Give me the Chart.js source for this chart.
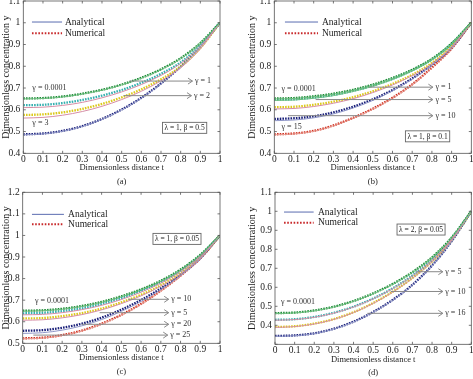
<!DOCTYPE html>
<html><head><meta charset="utf-8">
<script src="https://cdn.jsdelivr.net/npm/chart.js@4.4.0/dist/chart.umd.min.js"></script>
<style>
html,body{margin:0;padding:0;background:#fff;}
#wrap{position:relative;width:473px;height:379px;overflow:hidden;background:#fff;}
canvas{position:absolute;}
</style></head><body>
<div id="wrap">
<canvas id="pa" width="236" height="190" style="left:0;top:0"></canvas>
<canvas id="pb" width="237" height="190" style="left:236px;top:0"></canvas>
<canvas id="pc" width="236" height="194" style="left:0;top:185px"></canvas>
<canvas id="pd" width="237" height="194" style="left:236px;top:185px"></canvas>
</div>
<script>
// ---------- data ----------
const T = [0, 0.1, 0.2, 0.3, 0.4, 0.5, 0.6, 0.7, 0.8, 0.9, 1];

// (a) lambda = 1, beta = 0.5
const aNum_g0001 = [0.652,0.654,0.661,0.674,0.692,0.716,0.747,0.786,0.837,0.907,1.0];
const aAna_g0001 = [0.650,0.652,0.659,0.672,0.690,0.714,0.745,0.784,0.835,0.906,1.0];
const aNum_g1    = [0.621,0.623,0.631,0.645,0.665,0.691,0.724,0.765,0.818,0.896,1.0];
const aAna_g1    = [0.610,0.612,0.620,0.634,0.655,0.682,0.716,0.758,0.813,0.892,1.0];
const aNum_g2    = [0.576,0.579,0.588,0.604,0.627,0.657,0.694,0.740,0.799,0.884,1.0];
const aAna_g2    = [0.562,0.565,0.575,0.592,0.616,0.647,0.685,0.733,0.793,0.880,1.0];
const aNum_g3    = [0.487,0.491,0.503,0.525,0.558,0.601,0.655,0.721,0.799,0.889,1.0];
const aAna_g3    = [0.485,0.489,0.501,0.523,0.556,0.599,0.653,0.719,0.797,0.888,1.0];

// (b) lambda = 1, beta = 0.1
const bNum_g0001 = [0.652,0.654,0.662,0.674,0.692,0.716,0.746,0.784,0.834,0.905,1.0];
const bAna_g0001 = [0.650,0.652,0.660,0.672,0.690,0.714,0.744,0.782,0.833,0.904,1.0];
const bNum_g1    = [0.646,0.648,0.656,0.668,0.687,0.711,0.742,0.781,0.831,0.903,1.0];
const bAna_g1    = [0.643,0.645,0.653,0.665,0.684,0.708,0.739,0.778,0.829,0.902,1.0];
const bNum_g5    = [0.612,0.614,0.623,0.637,0.658,0.685,0.719,0.761,0.815,0.892,1.0];
const bAna_g5    = [0.604,0.606,0.615,0.630,0.651,0.679,0.714,0.757,0.811,0.889,1.0];
const bNum_g10   = [0.558,0.561,0.570,0.588,0.614,0.648,0.691,0.744,0.808,0.886,1.0];
const bAna_g10   = [0.550,0.553,0.563,0.581,0.608,0.643,0.687,0.741,0.806,0.885,1.0];
const bNum_g15   = [0.487,0.491,0.503,0.528,0.563,0.605,0.655,0.717,0.794,0.882,1.0];
const bAna_g15   = [0.485,0.489,0.501,0.526,0.561,0.603,0.653,0.715,0.792,0.881,1.0];

// (c) lambda = 1, beta = 0.05
const cNum_g0001 = [0.651,0.653,0.660,0.673,0.692,0.718,0.750,0.790,0.842,0.910,1.0];
const cAna_g0001 = [0.649,0.651,0.658,0.671,0.690,0.716,0.748,0.788,0.840,0.909,1.0];
const cNum_g5    = [0.639,0.641,0.649,0.662,0.682,0.709,0.742,0.783,0.836,0.906,1.0];
const cAna_g5    = [0.632,0.634,0.642,0.656,0.676,0.703,0.737,0.779,0.833,0.904,1.0];
const cNum_g10   = [0.615,0.617,0.626,0.640,0.661,0.690,0.725,0.769,0.825,0.899,1.0];
const cAna_g10   = [0.607,0.609,0.618,0.633,0.655,0.684,0.720,0.765,0.822,0.897,1.0];
const cNum_g20   = [0.558,0.561,0.572,0.591,0.619,0.656,0.701,0.754,0.818,0.895,1.0];
const cAna_g20   = [0.546,0.549,0.561,0.581,0.610,0.648,0.694,0.749,0.815,0.893,1.0];
const cNum_g25   = [0.523,0.526,0.538,0.559,0.591,0.632,0.683,0.744,0.814,0.894,1.0];
const cAna_g25   = [0.521,0.524,0.536,0.557,0.589,0.630,0.681,0.742,0.812,0.893,1.0];

// (d) lambda = 2, beta = 0.05
const dNum_g0001 = [0.464,0.467,0.478,0.498,0.528,0.568,0.618,0.680,0.758,0.862,1.0];
const dAna_g0001 = [0.462,0.465,0.476,0.496,0.526,0.566,0.616,0.678,0.756,0.861,1.0];
const dNum_g5    = [0.429,0.432,0.444,0.466,0.498,0.541,0.595,0.662,0.745,0.855,1.0];
const dAna_g5    = [0.427,0.430,0.442,0.464,0.496,0.539,0.593,0.660,0.743,0.854,1.0];
const dNum_g10   = [0.391,0.395,0.409,0.433,0.469,0.517,0.577,0.649,0.736,0.849,1.0];
const dAna_g10   = [0.389,0.393,0.407,0.431,0.467,0.515,0.575,0.647,0.734,0.848,1.0];
const dNum_g16   = [0.344,0.347,0.358,0.382,0.419,0.470,0.534,0.613,0.715,0.843,1.0];
const dAna_g16   = [0.342,0.345,0.356,0.380,0.417,0.468,0.532,0.611,0.713,0.842,1.0];

// ---------- styles ----------
const F = "'Liberation Serif','Times New Roman',serif";
const TXT = '#222';
const COL = {green:'#1b8a35', cyan:'#35b0b0', yellow:'#dcc91c', navy:'#1a207a', red:'#d0301f', pink:'#d68ea6', lgreen:'#6fbf80', lnavy:'#8f96c8', lred:'#e79a90'};
const fmt = v => String(Math.round(v * 10) / 10);

function ds(data, color, num) {
  return {
    data: T.map((t, i) => ({x: t, y: data[i]})),
    borderColor: color, borderWidth: num ? 2.3 : 1,
    borderDash: num ? [1.6, 1.1] : [],
    pointRadius: 0, cubicInterpolationMode: 'monotone', fill: false
  };
}

const decor = {
  id: 'decor',
  afterDatasetsDraw(chart, _a, o) {
    const {ctx, chartArea: ca, scales: {x, y}} = chart;
    const cw = ca.right - ca.left, ch = ca.bottom - ca.top;
    ctx.save();
    // frame
    ctx.strokeStyle = '#555'; ctx.lineWidth = 0.8; ctx.setLineDash([]);
    ctx.strokeRect(ca.left, ca.top, cw, ch);
    // inward ticks
    ctx.beginPath();
    x.ticks.forEach(tk => { const p = x.getPixelForValue(tk.value);
      ctx.moveTo(p, ca.bottom); ctx.lineTo(p, ca.bottom - 2.5);
      ctx.moveTo(p, ca.top); ctx.lineTo(p, ca.top + 2.5); });
    y.ticks.forEach(tk => { const p = y.getPixelForValue(tk.value);
      ctx.moveTo(ca.left, p); ctx.lineTo(ca.left + 2.5, p);
      ctx.moveTo(ca.right, p); ctx.lineTo(ca.right - 2.5, p); });
    ctx.stroke();
    // legend
    const L = o.legend;
    const lx0 = ca.left + L.x0 * cw, lx1 = ca.left + L.x1 * cw, tx = ca.left + L.tx * cw;
    const ya = ca.top + L.ya * ch, yn = ca.top + L.yn * ch;
    ctx.strokeStyle = '#5a6cb0'; ctx.lineWidth = 1;
    ctx.beginPath(); ctx.moveTo(lx0, ya); ctx.lineTo(lx1, ya); ctx.stroke();
    ctx.strokeStyle = '#c8282a'; ctx.lineWidth = 2; ctx.setLineDash([1.6, 1.6]);
    ctx.beginPath(); ctx.moveTo(lx0, yn); ctx.lineTo(lx1, yn); ctx.stroke();
    ctx.setLineDash([]);
    ctx.fillStyle = TXT; ctx.font = `9.5px ${F}`; ctx.textAlign = 'left'; ctx.textBaseline = 'middle';
    ctx.fillText('Analytical', tx, ya);
    ctx.fillText('Numerical', tx, yn);
    // arrows
    ctx.font = `8px ${F}`;
    o.arrows.forEach(a => {
      const py = y.getPixelForValue(a.v), x0 = x.getPixelForValue(a.t0), x1 = x.getPixelForValue(a.t1);
      ctx.strokeStyle = '#888'; ctx.lineWidth = 1;
      ctx.beginPath(); ctx.moveTo(x0, py); ctx.lineTo(x1, py);
      ctx.moveTo(x1 - 4.5, py - 3); ctx.lineTo(x1, py); ctx.lineTo(x1 - 4.5, py + 3); ctx.stroke();
      ctx.fillStyle = '#333'; ctx.fillText(a.text, x1 + 2.5, py);
    });
    // free labels
    o.labels.forEach(l => {
      ctx.fillStyle = '#333';
      ctx.fillText(l.text, x.getPixelForValue(l.t), y.getPixelForValue(l.v));
    });
    // parameter box
    const b = o.box;
    ctx.font = `7.5px ${F}`;
    const w = ctx.measureText(b.text).width + 4, h = 11;
    const cx = x.getPixelForValue(b.t), cy = y.getPixelForValue(b.v);
    ctx.fillStyle = '#fff'; ctx.fillRect(cx - w / 2, cy - h / 2, w, h);
    ctx.strokeStyle = '#666'; ctx.lineWidth = 0.9; ctx.strokeRect(cx - w / 2, cy - h / 2, w, h);
    ctx.fillStyle = '#222'; ctx.textAlign = 'center'; ctx.fillText(b.text, cx, cy + 0.5);
    ctx.restore();
  }
};

function make(id, p) {
  return new Chart(document.getElementById(id), {
    type: 'line',
    data: {datasets: p.datasets},
    options: {
      responsive: false, animation: false, devicePixelRatio: 1,
      layout: {padding: {left: 0, top: p.padTop, right: p.padRight, bottom: 0}},
      plugins: {legend: {display: false}, tooltip: {enabled: false}, decor: p.decor},
      scales: {
        x: {
          type: 'linear', min: 0, max: 1,
          ticks: {stepSize: 0.1, padding: 0, color: TXT, font: {family: F, size: 9.5}, maxRotation: 0, autoSkip: false, callback: fmt},
          grid: {display: false, drawTicks: false}, border: {display: false},
          title: {display: true, text: ['Dimensionless distance t', p.caption], color: TXT,
                  font: {family: F, size: 8.5, lineHeight: p.titleLH + 'px'}, padding: {top: 0, bottom: p.titlePadB}},
          afterFit(s) { s.height = p.xH; s.paddingLeft = 0; s.paddingRight = 0; }
        },
        y: {
          type: 'linear', min: p.yMin, max: p.yMax,
          ticks: {stepSize: 0.1, padding: 3, color: TXT, font: {family: F, size: 9.5},
                  callback: v => (p.hideY && Math.abs(v - p.hideY) < 1e-6) ? '' : fmt(v)},
          grid: {display: false, drawTicks: false}, border: {display: false},
          title: {display: true, text: 'Dimensionless concentration y', color: TXT,
                  font: {family: F, size: 10}, padding: {top: p.yTitlePad, bottom: 0}},
          afterFit(s) { s.width = p.yW; s.paddingTop = 0; s.paddingBottom = 0; }
        }
      }
    },
    plugins: [decor]
  });
}

make('pa', {
  yMin: 0.4, yMax: 1.1, padTop: 1, padRight: 16, yW: 23.3, xH: 36.7, yTitlePad: 0,
  titleLH: 14, titlePadB: 1, caption: '(a)',
  datasets: [
    ds(aAna_g0001, COL.lgreen, false), ds(aAna_g1, COL.pink, false), ds(aAna_g2, COL.pink, false), ds(aAna_g3, COL.lnavy, false),
    ds(aNum_g0001, COL.green, true), ds(aNum_g1, COL.cyan, true), ds(aNum_g2, COL.yellow, true), ds(aNum_g3, COL.navy, true)
  ],
  decor: {
    legend: {x0: 0.044, x1: 0.197, tx: 0.212, ya: 0.138, yn: 0.211},
    arrows: [{v: 0.732, t0: 0.54, t1: 0.86, text: 'γ = 1'}, {v: 0.665, t0: 0.51, t1: 0.855, text: 'γ = 2'}],
    labels: [{t: 0.046, v: 0.702, text: 'γ = 0.0001'}, {t: 0.046, v: 0.538, text: 'γ = 3'}],
    box: {t: 0.82, v: 0.517, text: 'λ = 1, β = 0.5'}
  }
});

make('pb', {
  yMin: 0.4, yMax: 1.1, padTop: 1, padRight: 1.7, yW: 38.3, xH: 36.7, yTitlePad: 10.5,
  titleLH: 14, titlePadB: 1, caption: '(b)',
  datasets: [
    ds(bAna_g0001, COL.lgreen, false), ds(bAna_g1, COL.lgreen, false), ds(bAna_g5, COL.pink, false), ds(bAna_g10, COL.lnavy, false), ds(bAna_g15, COL.lred, false),
    ds(bNum_g0001, COL.green, true), ds(bNum_g1, COL.cyan, true), ds(bNum_g5, COL.yellow, true), ds(bNum_g10, COL.navy, true), ds(bNum_g15, COL.red, true)
  ],
  decor: {
    legend: {x0: 0.054, x1: 0.222, tx: 0.242, ya: 0.138, yn: 0.211},
    arrows: [{v: 0.704, t0: 0.48, t1: 0.805, text: 'γ = 1'}, {v: 0.647, t0: 0.21, t1: 0.805, text: 'γ = 5'}, {v: 0.573, t0: 0.07, t1: 0.805, text: 'γ = 10'}],
    labels: [{t: 0.037, v: 0.694, text: 'γ = 0.0001'}, {t: 0.037, v: 0.522, text: 'γ = 15'}],
    box: {t: 0.778, v: 0.478, text: 'λ = 1, β = 0.1'}
  }
});

make('pc', {
  yMin: 0.5, yMax: 1.2, padTop: 7.3, padRight: 16, yW: 22.7, xH: 35.7, yTitlePad: 0,
  titleLH: 14, titlePadB: 0, caption: '(c)',
  datasets: [
    ds(cAna_g0001, COL.lgreen, false), ds(cAna_g5, COL.pink, false), ds(cAna_g10, COL.pink, false), ds(cAna_g20, COL.lnavy, false), ds(cAna_g25, COL.lred, false),
    ds(cNum_g0001, COL.green, true), ds(cNum_g5, COL.cyan, true), ds(cNum_g10, COL.yellow, true), ds(cNum_g20, COL.navy, true), ds(cNum_g25, COL.red, true)
  ],
  decor: {
    legend: {x0: 0.047, x1: 0.209, tx: 0.23, ya: 0.146, yn: 0.212},
    arrows: [{v: 0.704, t0: 0.535, t1: 0.74, text: 'γ = 10'}, {v: 0.642, t0: 0.39, t1: 0.74, text: 'γ = 5'},
             {v: 0.588, t0: 0.30, t1: 0.74, text: 'γ = 20'}, {v: 0.538, t0: 0.054, t1: 0.735, text: 'γ = 25'}],
    labels: [{t: 0.062, v: 0.697, text: 'γ = 0.0001'}],
    box: {t: 0.782, v: 0.984, text: 'λ = 1, β = 0.05'}
  }
});

make('pd', {
  yMin: 0.3, yMax: 1.1, hideY: 0.3, padTop: 7.3, padRight: 1.7, yW: 39, xH: 34.7, yTitlePad: 10,
  titleLH: 13, titlePadB: 0, caption: '(d)',
  datasets: [
    ds(dAna_g0001, COL.lgreen, false), ds(dAna_g5, COL.pink, false), ds(dAna_g10, COL.pink, false), ds(dAna_g16, COL.lnavy, false),
    ds(dNum_g0001, COL.green, true), ds(dNum_g5, COL.cyan, true), ds(dNum_g10, COL.yellow, true), ds(dNum_g16, COL.navy, true)
  ],
  decor: {
    legend: {x0: 0.046, x1: 0.197, tx: 0.219, ya: 0.13, yn: 0.2},
    arrows: [{v: 0.682, t0: 0.72, t1: 0.855, text: 'γ = 5'}, {v: 0.578, t0: 0.59, t1: 0.855, text: 'γ = 10'}, {v: 0.463, t0: 0.47, t1: 0.855, text: 'γ = 16'}],
    labels: [{t: 0.03, v: 0.522, text: 'γ = 0.0001'}],
    box: {t: 0.744, v: 0.904, text: 'λ = 2, β = 0.05'}
  }
});
</script>
</body></html>
